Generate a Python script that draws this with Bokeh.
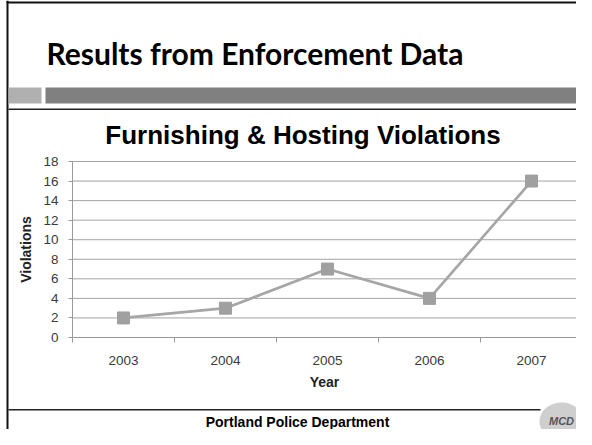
import numpy as np
from bokeh.plotting import figure
from bokeh.models import Range1d, FixedTicker, LinearAxis
from bokeh.core.properties import value
from bokeh.embed import file_html
from bokeh.resources import INLINE

# ---- data ----
years = ["2003", "2004", "2005", "2006", "2007"]
violations = [2, 3, 7, 4, 16]
y_ticks = [0, 2, 4, 6, 8, 10, 12, 14, 16, 18]
y_max = 18

slide_title = "Results from Enforcement Data"
chart_title = "Furnishing & Hosting Violations"
footer_text = "Portland Police Department"
logo_text = "MCD"

n = len(years)
x_pos = [i + 0.5 for i in range(n)]
bounds = list(range(n + 1))

# ---- canvas / layout (pixels, y downward) ----
W, H = 576, 429
PL, PR, PT, PB = 72, 582, 161, 337   # chart plot area in canvas px

kx = (PR - PL) / n
ky = (PB - PT) / y_max
cx_range = Range1d(-PL / kx, (W - PL) / kx)
cy_range = Range1d(-(H - PB) / ky, y_max + PT / ky)

p = figure(width=W, height=H, output_backend="svg", toolbar_location=None,
           x_range=Range1d(0, W), y_range=Range1d(H, 0),
           x_axis_type=None, y_axis_type=None, min_border=0,
           outline_line_color=None, background_fill_color="white",
           border_fill_color="white")
p.grid.visible = False
p.extra_x_ranges = {"cx": cx_range}
p.extra_y_ranges = {"cy": cy_range}

AX = "#9a9a9a"
TICK_FONT = "Liberation Sans"

# ---- gridlines ----
p.segment(x0=[0] * len(y_ticks), x1=[n] * len(y_ticks), y0=y_ticks, y1=y_ticks,
          x_range_name="cx", y_range_name="cy", line_color="#a3a3a3", line_width=1)

# ---- axes ----
ya = LinearAxis(x_range_name="cx", y_range_name="cy", fixed_location=0,
                bounds=(0, y_max), ticker=FixedTicker(ticks=y_ticks))
ya.axis_line_color = AX
ya.major_tick_line_color = AX
ya.major_tick_out = 4
ya.major_tick_in = 0
ya.minor_tick_line_color = None
ya.major_label_text_font = TICK_FONT
ya.major_label_text_font_size = "13.5px"
ya.major_label_text_color = "#3a3a3a"
ya.major_label_standoff = 10
ya.axis_label = "Violations"
ya.axis_label_text_font = TICK_FONT
ya.axis_label_text_font_style = "bold"
ya.axis_label_text_font_size = "14px"
ya.axis_label_text_color = "#222222"
ya.axis_label_standoff = 6
p.add_layout(ya, "left")

xa = LinearAxis(x_range_name="cx", y_range_name="cy", fixed_location=0,
                bounds=(0, n), ticker=FixedTicker(ticks=x_pos, minor_ticks=bounds))
xa.major_label_overrides = {x: y for x, y in zip(x_pos, years)}
xa.axis_line_color = AX
xa.major_tick_line_color = None
xa.major_tick_out = 0
xa.major_tick_in = 0
xa.minor_tick_line_color = AX
xa.minor_tick_out = 5
xa.minor_tick_in = 0
xa.major_label_text_font = TICK_FONT
xa.major_label_text_font_size = "13.5px"
xa.major_label_text_color = "#3a3a3a"
xa.major_label_standoff = 13
xa.axis_label = "Year"
xa.axis_label_text_font = TICK_FONT
xa.axis_label_text_font_style = "bold"
xa.axis_label_text_font_size = "14px"
xa.axis_label_text_color = "#222222"
xa.axis_label_standoff = 6
p.add_layout(xa, "below")

# ---- data series ----
p.line(x_pos, violations, line_color="#a6a6a6", line_width=2.7,
       x_range_name="cx", y_range_name="cy")
p.scatter(x_pos, violations, marker="square", size=12,
          fill_color="#a0a0a0", line_color="#a0a0a0",
          x_range_name="cx", y_range_name="cy")

# ---- slide decorations (canvas px) ----
p.quad(left=[6, 6, 8, 45, 8, 8], right=[8, W, 41, W, W, 540],
       top=[0, 1, 87, 87, 108, 408.5], bottom=[H, 3, 103, 103, 109.5, 410],
       fill_color=["#111111", "#111111", "#b0b0b0", "#808080", "#222222", "#222222"],
       line_color=None)

# logo
t = np.linspace(0, 2 * np.pi, 60)
p.patch(561 + 22 * np.cos(t), 421 + 19 * np.sin(t), fill_color="#cfcfcf", line_color=None)
p.text(x=[561], y=[420], text=[logo_text], text_font=value(TICK_FONT),
       text_font_style="bold italic", text_font_size="11px", text_color="#555555",
       text_align="center", text_baseline="middle")

p.text(x=[46], y=[52], text=[slide_title], text_font=value("Lato"),
       text_font_style="bold", text_font_size="30px", text_color="#000000",
       text_align="left", text_baseline="middle")
p.text(x=[302.5], y=[134.5], text=[chart_title], text_font=value(TICK_FONT),
       text_font_style="bold", text_font_size="26px", text_color="#000000",
       text_align="center", text_baseline="middle")
p.text(x=[297], y=[421.5], text=[footer_text], text_font=value(TICK_FONT),
       text_font_style="bold", text_font_size="14px", text_color="#000000",
       text_align="center", text_baseline="middle")

open("out.html", "w").write(file_html(p, INLINE))
